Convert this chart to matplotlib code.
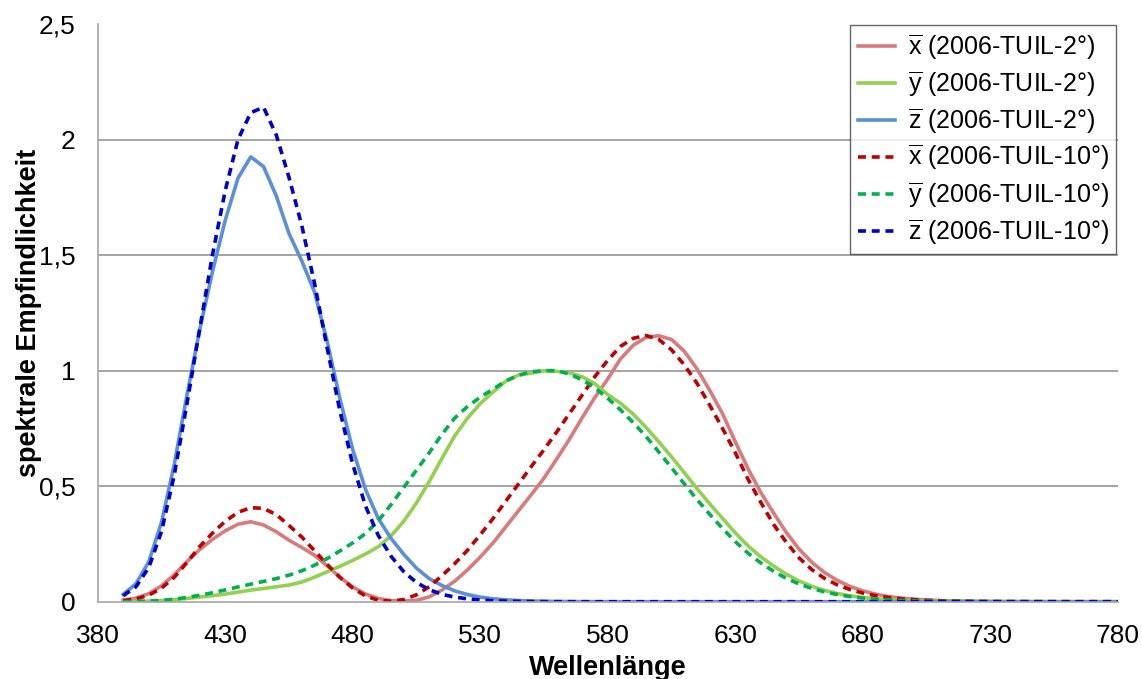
import matplotlib
matplotlib.use("Agg")
import matplotlib.pyplot as plt
from matplotlib.ticker import FuncFormatter, FixedLocator, MultipleLocator

plt.rcParams["font.family"] = ["Liberation Sans", "DejaVu Sans"]
plt.rcParams["mathtext.fontset"] = "custom"
plt.rcParams["mathtext.rm"] = "Liberation Sans"

# wavelengths 390..780 nm in 5 nm steps
wavelength = list(range(390, 785, 5))
x_ticks = list(range(380, 781, 50))

# 2 degree observer
x_2 = [0.0066, 0.0158, 0.0348, 0.0685, 0.1170, 0.1740, 0.2260, 0.2700, 0.3070, 0.3355,
       0.3460, 0.3320, 0.3030, 0.2660, 0.2350, 0.2010, 0.1550, 0.1055, 0.0640, 0.0334,
       0.0140, 0.0048, 0.0030, 0.0060, 0.0211, 0.0505, 0.0891, 0.1378, 0.1935, 0.2544,
       0.3239, 0.3940, 0.4630, 0.5350, 0.6180, 0.7040, 0.7968, 0.8853, 0.9638, 1.0510,
       1.1098, 1.1436, 1.1510, 1.1348, 1.0839, 1.0073, 0.9143, 0.8136, 0.6925, 0.5755,
       0.4731, 0.3845, 0.2997, 0.2278, 0.1708, 0.1264, 0.0922, 0.0664, 0.0471, 0.0329,
       0.0226, 0.0158, 0.0110, 0.0076, 0.0052, 0.0036, 0.0025, 0.0017, 0.0012, 0.0008,
       0.0006, 0.0004, 0.0003, 0.0002, 0.0001, 0.0001, 0.0001, 0.0001, 0.0000]
y_2 = [0.0004, 0.0011, 0.0025, 0.0050, 0.0091, 0.0143, 0.0203, 0.0261, 0.0332, 0.0416,
       0.0503, 0.0574, 0.0647, 0.0724, 0.0851, 0.1060, 0.1299, 0.1535, 0.1788, 0.2065,
       0.2379, 0.2851, 0.3484, 0.4278, 0.5205, 0.6206, 0.7181, 0.7946, 0.8576, 0.9071,
       0.9545, 0.9814, 0.9890, 0.9995, 0.9968, 0.9903, 0.9733, 0.9425, 0.8964, 0.8587,
       0.8116, 0.7545, 0.6919, 0.6270, 0.5584, 0.4896, 0.4230, 0.3609, 0.2981, 0.2417,
       0.1943, 0.1547, 0.1193, 0.0898, 0.0667, 0.0490, 0.0356, 0.0255, 0.0181, 0.0126,
       0.0087, 0.0060, 0.0042, 0.0029, 0.0020, 0.0014, 0.0009, 0.0007, 0.0005, 0.0003,
       0.0002, 0.0002, 0.0001, 0.0001, 0.0001, 0.0000, 0.0000, 0.0000, 0.0000]
z_2 = [0.0320, 0.0780, 0.1730, 0.3440, 0.5940, 0.8950, 1.1780, 1.4290, 1.6510, 1.8330,
       1.9250, 1.8830, 1.7560, 1.5930, 1.4750, 1.3400, 1.1250, 0.8770, 0.6580, 0.4860,
       0.3600, 0.2740, 0.2050, 0.1450, 0.1000, 0.0700, 0.0470, 0.0310, 0.0200, 0.0128,
       0.0080, 0.0050, 0.0031, 0.0019, 0.0012, 0.0007, 0.0004, 0.0003, 0.0002, 0.0001,
       0.0001, 0.0000, 0.0000, 0.0000, 0.0000, 0.0000, 0.0000, 0.0000, 0.0000, 0.0000,
       0.0000, 0.0000, 0.0000, 0.0000, 0.0000, 0.0000, 0.0000, 0.0000, 0.0000, 0.0000,
       0.0000, 0.0000, 0.0000, 0.0000, 0.0000, 0.0000, 0.0000, 0.0000, 0.0000, 0.0000,
       0.0000, 0.0000, 0.0000, 0.0000, 0.0000, 0.0000, 0.0000, 0.0000, 0.0000]

# 10 degree observer
x_10 = [0.0048, 0.0121, 0.0282, 0.0586, 0.1058, 0.1700, 0.2390, 0.2970, 0.3480, 0.3870,
        0.4070, 0.4040, 0.3770, 0.3300, 0.2800, 0.2210, 0.1610, 0.1050, 0.0590, 0.0250,
        0.0064, 0.0022, 0.0096, 0.0300, 0.0650, 0.1130, 0.1650, 0.2230, 0.2900, 0.3600,
        0.4350, 0.5100, 0.5850, 0.6580, 0.7350, 0.8150, 0.8950, 0.9750, 1.0450, 1.1050,
        1.1400, 1.1520, 1.1350, 1.0900, 1.0250, 0.9450, 0.8500, 0.7500, 0.6450, 0.5300,
        0.4300, 0.3350, 0.2570, 0.1900, 0.1390, 0.1010, 0.0730, 0.0525, 0.0375, 0.0265,
        0.0185, 0.0129, 0.0090, 0.0063, 0.0044, 0.0030, 0.0021, 0.0015, 0.0010, 0.0007,
        0.0005, 0.0004, 0.0003, 0.0002, 0.0001, 0.0001, 0.0001, 0.0000, 0.0000]
y_10 = [0.0004, 0.0011, 0.0026, 0.0057, 0.0110, 0.0190, 0.0280, 0.0390, 0.0510, 0.0640,
        0.0760, 0.0880, 0.1000, 0.1150, 0.1340, 0.1580, 0.1870, 0.2200, 0.2550, 0.2950,
        0.3500, 0.4200, 0.4950, 0.5700, 0.6450, 0.7250, 0.7950, 0.8450, 0.8850, 0.9200,
        0.9550, 0.9800, 0.9950, 1.0000, 1.0000, 0.9850, 0.9600, 0.9250, 0.8800, 0.8300,
        0.7750, 0.7150, 0.6480, 0.5800, 0.5100, 0.4420, 0.3780, 0.3170, 0.2600, 0.2100,
        0.1680, 0.1320, 0.1010, 0.0770, 0.0575, 0.0425, 0.0310, 0.0222, 0.0160, 0.0113,
        0.0080, 0.0056, 0.0039, 0.0027, 0.0019, 0.0013, 0.0009, 0.0006, 0.0004, 0.0003,
        0.0002, 0.0002, 0.0001, 0.0001, 0.0000, 0.0000, 0.0000, 0.0000, 0.0000]
z_10 = [0.0260, 0.0650, 0.1480, 0.3040, 0.5480, 0.8580, 1.1820, 1.5020, 1.7800, 2.0000,
        2.1160, 2.1400, 2.0200, 1.8360, 1.6280, 1.3780, 1.0960, 0.8240, 0.5940, 0.4140,
        0.2870, 0.1970, 0.1300, 0.0830, 0.0520, 0.0320, 0.0200, 0.0125, 0.0075, 0.0045,
        0.0027, 0.0016, 0.0010, 0.0006, 0.0003, 0.0002, 0.0001, 0.0001, 0.0000, 0.0000,
        0.0000, 0.0000, 0.0000, 0.0000, 0.0000, 0.0000, 0.0000, 0.0000, 0.0000, 0.0000,
        0.0000, 0.0000, 0.0000, 0.0000, 0.0000, 0.0000, 0.0000, 0.0000, 0.0000, 0.0000,
        0.0000, 0.0000, 0.0000, 0.0000, 0.0000, 0.0000, 0.0000, 0.0000, 0.0000, 0.0000,
        0.0000, 0.0000, 0.0000, 0.0000, 0.0000, 0.0000, 0.0000, 0.0000, 0.0000]

labels = [r"$\overline{\mathrm{x}}$ (2006-TUIL-2°)",
          r"$\overline{\mathrm{y}}$ (2006-TUIL-2°)",
          r"$\overline{\mathrm{z}}$ (2006-TUIL-2°)",
          r"$\overline{\mathrm{x}}$ (2006-TUIL-10°)",
          r"$\overline{\mathrm{y}}$ (2006-TUIL-10°)",
          r"$\overline{\mathrm{z}}$ (2006-TUIL-10°)"]

fig = plt.figure(figsize=(11.42, 6.79), dpi=100)
ax = fig.add_axes([0.0856, 0.1138, 0.8932, 0.8509])

solid_colors = ["#D77B7C", "#92D050", "#5B8FD6"]
dash_colors = ["#C00000", "#00B050", "#0000CC"]

for vals, col, lab in zip([x_2, y_2, z_2], solid_colors, labels[:3]):
    ax.plot(wavelength, vals, color=col, lw=2.6, label=lab, solid_joinstyle="round")
for vals, col, lab in zip([x_10, y_10, z_10], dash_colors, labels[3:]):
    ax.plot(wavelength, vals, color=col, lw=2.6, ls=(0, (2.2, 1.6)), label=lab)

ax.set_xlim(380, 780)
ax.set_ylim(0, 2.5)
ax.xaxis.set_major_locator(FixedLocator(x_ticks))
ax.yaxis.set_major_locator(MultipleLocator(0.5))
ax.yaxis.set_major_formatter(FuncFormatter(lambda v, p: f"{v:g}".replace(".", ",")))

for v in [0.5, 1.0, 1.5, 2.0]:
    ax.axhline(v, color="#8C8C8C", lw=1.1, zorder=0)

for s in ["top", "right"]:
    ax.spines[s].set_visible(False)
for s in ["left", "bottom"]:
    ax.spines[s].set_color("#A6A6A6")
    ax.spines[s].set_linewidth(1.2)

ax.tick_params(axis="both", length=0, labelsize=19, pad=16)
ax.set_xlabel("Wellenlänge", fontsize=19.5, fontweight="bold", labelpad=5)
ax.set_ylabel("spektrale Empfindlichkeit", fontsize=19.5, fontweight="bold")
ax.yaxis.set_label_coords(-0.055, 0.5)

leg = ax.legend(loc="upper right", bbox_to_anchor=(0.9772, 0.9632),
                bbox_transform=fig.transFigure, fontsize=18, frameon=True,
                fancybox=False, handlelength=1.5, handletextpad=0.5,
                labelspacing=0.3, borderpad=0.3, borderaxespad=0)
leg.get_frame().set_edgecolor("#404040")
leg.get_frame().set_linewidth(1.0)

fig.savefig("out.png", dpi=100)
